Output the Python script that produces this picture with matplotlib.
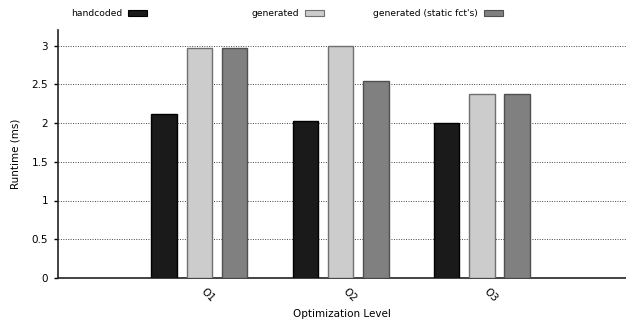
import matplotlib
matplotlib.use("Agg")
import matplotlib.pyplot as plt
import numpy as np
from matplotlib.patches import Rectangle

levels = ["O1", "O2", "O3"]
series = ["handcoded", "generated", "generated (static fct's)"]
handcoded = [2.12, 2.02, 2.00]
generated = [2.97, 3.00, 2.37]
static_fcts = [2.97, 2.54, 2.37]

colors = ["#1a1a1a", "#cccccc", "#808080"]
edges = ["#000000", "#707070", "#505050"]

plt.rcParams["font.family"] = "DejaVu Sans"
plt.rcParams["font.size"] = 7.5

fig = plt.figure(figsize=(6.26, 3.26), dpi=100)
ax = fig.add_axes([58 / 626, 48 / 326, 568 / 626, 248 / 326])

x = np.arange(1, len(levels) + 1)
offsets = [-0.25, 0, 0.25]
width = 0.18
for vals, off, c, e in zip([handcoded, generated, static_fcts], offsets, colors, edges):
    ax.bar(x + off, vals, width, color=c, edgecolor=e, linewidth=1, zorder=3)

ax.set_xlim(0, 4.02)
ax.set_ylim(0, 3.2)
ax.set_yticks([0, 0.5, 1, 1.5, 2, 2.5, 3])
ax.set_yticklabels(["0", "0.5", "1", "1.5", "2", "2.5", "3"])
ax.set_xticks(x)
ax.set_xticklabels(levels, rotation=-45, ha="left")
ax.tick_params(axis="x", length=0, pad=6)
ax.tick_params(axis="y", direction="out", length=3, width=1, pad=4)
ax.yaxis.grid(True, linestyle=(0, (1, 1.5)), color="#444444", linewidth=0.7, zorder=0)
for g in ax.get_ygridlines()[:1]:
    g.set_visible(False)
for s in ["top", "right"]:
    ax.spines[s].set_visible(False)
for s in ["left", "bottom"]:
    ax.spines[s].set_linewidth(1.2)
    ax.spines[s].set_color("#222222")

ax.set_ylabel("Runtime (ms)", labelpad=8)
ax.set_xlabel("Optimization Level", labelpad=4)

# legend across the top: text then swatch
swatch_right = [147, 324, 503]
for name, r, c, e in zip(series, swatch_right, colors, edges):
    fig.patches.append(Rectangle(((r - 19) / 626, 1 - 16 / 326), 19 / 626, 6 / 326,
                                 transform=fig.transFigure, facecolor=c, edgecolor=e,
                                 linewidth=0.8))
    fig.text((r - 25) / 626, 1 - 13 / 326, name, ha="right", va="center", fontsize=6.6)

fig.savefig("out.png", dpi=100)
